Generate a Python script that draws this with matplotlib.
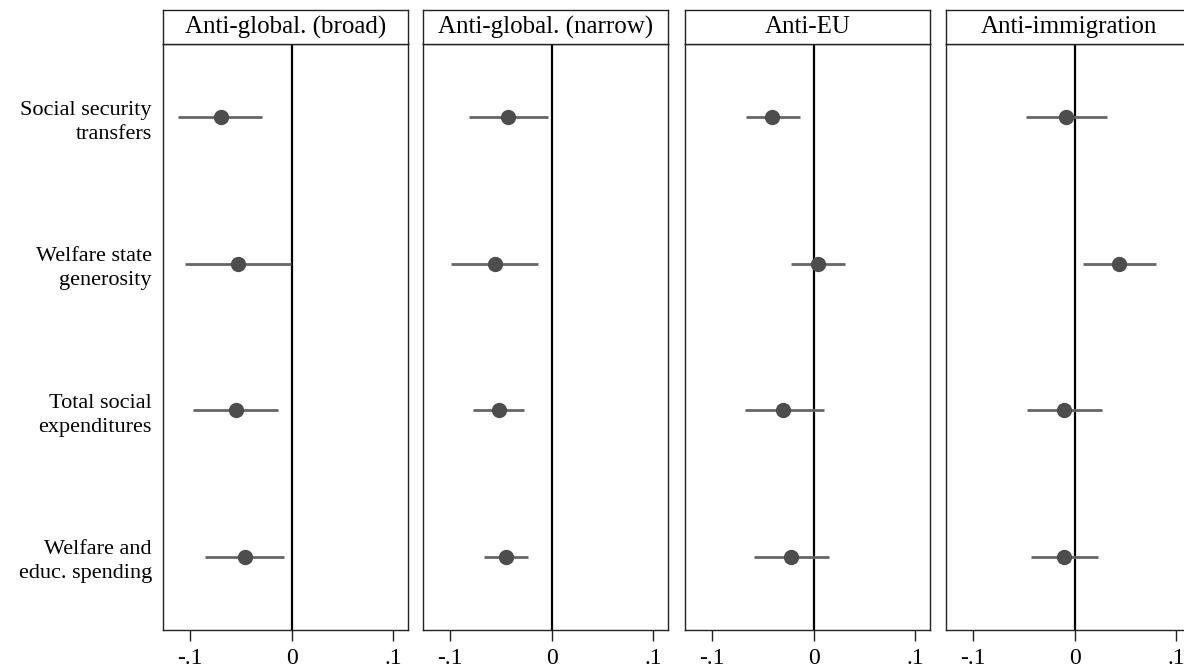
import matplotlib
matplotlib.use("Agg")
import matplotlib.pyplot as plt

plt.rcParams['font.family'] = ['Liberation Serif', 'DejaVu Serif']

panels = ["Anti-global. (broad)", "Anti-global. (narrow)", "Anti-EU", "Anti-immigration"]
outcomes = ["Social security\ntransfers", "Welfare state\ngenerosity",
            "Total social\nexpenditures", "Welfare and\neduc. spending"]

coef_broad = [-0.070, -0.053, -0.055, -0.046]
lo_broad = [-0.112, -0.105, -0.097, -0.086]
hi_broad = [-0.029, -0.001, -0.013, -0.007]

coef_narrow = [-0.043, -0.056, -0.052, -0.045]
lo_narrow = [-0.082, -0.099, -0.078, -0.067]
hi_narrow = [-0.004, -0.013, -0.027, -0.023]

coef_eu = [-0.041, 0.004, -0.030, -0.022]
lo_eu = [-0.067, -0.022, -0.068, -0.059]
hi_eu = [-0.013, 0.031, 0.010, 0.015]

coef_imm = [-0.008, 0.044, -0.010, -0.010]
lo_imm = [-0.048, 0.008, -0.047, -0.043]
hi_imm = [0.032, 0.080, 0.027, 0.023]

coefs = [coef_broad, coef_narrow, coef_eu, coef_imm]
los = [lo_broad, lo_narrow, lo_eu, lo_imm]
his = [hi_broad, hi_narrow, hi_eu, hi_imm]

xticks = [-0.1, 0.0, 0.1]
xticklabels = ["-.1", "0", ".1"]

W, H = 1184, 668
fig = plt.figure(figsize=(W / 100, H / 100), dpi=100)

lefts = [163, 423, 685, 946]
pw = 245
top_plot = 44
bottom_plot = 630
title_top = 10

ypos = [1, 2, 3, 4]
frame_col = "#222222"
for i, name in enumerate(panels):
    l = lefts[i] / W
    ax = fig.add_axes([l, 1 - bottom_plot / H, pw / W, (bottom_plot - top_plot) / H])
    tax = fig.add_axes([l, 1 - top_plot / H, pw / W, (top_plot - title_top) / H])
    tax.set_xticks([]); tax.set_yticks([])
    for s in tax.spines.values():
        s.set_color(frame_col); s.set_linewidth(1.0)
    tax.text(0.5, 0.5, name, ha="center", va="center", fontsize=18, transform=tax.transAxes)

    ax.axvline(0, color="black", lw=1.6, zorder=1)
    for y, c, lo, hi in zip(ypos, coefs[i], los[i], his[i]):
        ax.plot([lo, hi], [y, y], color="#666666", lw=2.0, solid_capstyle="butt", zorder=2)
    ax.plot(coefs[i], ypos, "o", color="#4d4d4d", ms=10, zorder=3, mec="#4d4d4d")
    ax.set_xlim(-0.127, 0.115)
    ax.set_ylim(4.5, 0.5)
    ax.set_xticks(xticks)
    ax.set_xticklabels(xticklabels, fontsize=17)
    ax.tick_params(axis="x", direction="out", length=8, width=1.0, color=frame_col, pad=5)
    for s in ax.spines.values():
        s.set_color(frame_col); s.set_linewidth(1.0)
    if i == 0:
        ax.set_yticks(ypos)
        labels = ax.set_yticklabels(outcomes, fontsize=16, ha="right")
        for t in labels:
            t.set_linespacing(1.35)
        ax.tick_params(axis="y", length=0, pad=8)
    else:
        ax.set_yticks([])

fig.savefig("out.png", dpi=100, facecolor="white")
